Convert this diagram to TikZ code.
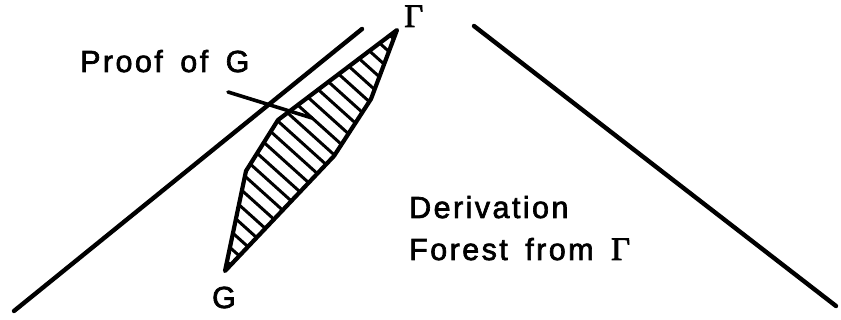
\documentclass[tikz,border=0pt]{standalone}
\usepackage{fontspec}
\newfontfamily\hv[LetterSpace=8, FakeBold=2.2, WordSpace=1.6]{Liberation Sans}
\newfontfamily\sr[FakeBold=2.2]{Liberation Serif}
\tikzset{
  bigline/.style={line width=4.4pt, line cap=round},
  outline/.style={line width=4.2pt, line join=round},
  hatchline/.style={line width=3pt},
  lbl/.style={inner sep=0pt, anchor=base west, font=\hv\fontsize{30.5}{34}\selectfont},
  gam/.style={inner sep=0pt, anchor=base west, font=\sr\fontsize{33}{36}\selectfont}
}
\begin{document}
\begin{tikzpicture}[x=1pt, y=-1pt]
\useasboundingbox (0,0) rectangle (841,320);
% forest sides
\coordinate (la) at (14,311);
\coordinate (lb) at (362,29);
\coordinate (ra) at (474,26);
\coordinate (rb) at (836,306);
\draw[bigline] (la) -- (lb);
\draw[bigline] (ra) -- (rb);
% proof polygon
\coordinate (p1) at (397,30);
\coordinate (p2) at (371,99);
\coordinate (p3) at (334,156);
\coordinate (p4) at (225,271);
\coordinate (p5) at (246,171);
\coordinate (p6) at (278,120);
\begin{scope}
  \clip (p1) -- (p2) -- (p3) -- (p4) -- (p5) -- (p6) -- cycle;
  \begin{scope}[shift={(310,150)}, rotate=-42]
    \foreach \k in {-16,...,16} \draw[hatchline] (-260,\k*12.6) -- (260,\k*12.6);
  \end{scope}
\end{scope}
\draw[outline] (p1) -- (p2) -- (p3) -- (p4) -- (p5) -- (p6) -- cycle;
% labels
\node[lbl] (proof) at (80,72) {Proof of G};
\coordinate (ptr) at (312,118);
\draw[line width=3.6pt, line cap=round] (228,92) -- (ptr);
\node[gam] (gtop) at (404,27) {Γ};
\node[lbl, anchor=base] (gbot) at (224,308) {G};
\node[lbl] (der) at (409,218) {Derivation};
\node[lbl] (for) at (409,260) {Forest from {\sr\fontsize{33}{36}\selectfont Γ}};
\end{tikzpicture}
\end{document}
